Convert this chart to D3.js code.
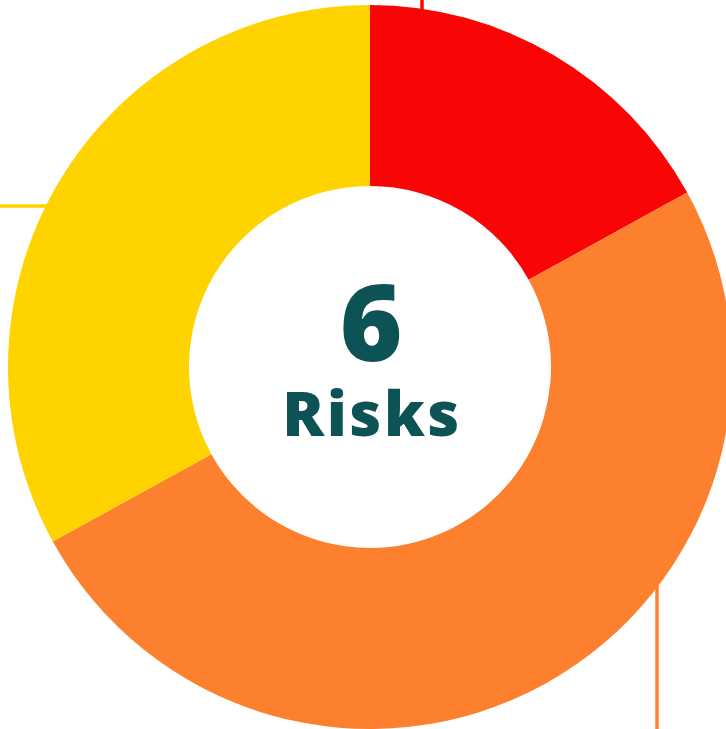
<!DOCTYPE html>
<html>
<head>
<meta charset="utf-8">
<script src="https://cdn.jsdelivr.net/npm/d3@7"></script>
<style>
  html, body { margin: 0; padding: 0; background: #fff; overflow: hidden; }
  svg { display: block; }
</style>
</head>
<body>
<svg id="chart" width="726" height="729"></svg>
<script>
const categories = ["High", "Medium", "Low"];
const values = [17, 50, 33];          // percent of risks per level
const counts = [1, 3, 2];
const colors = ["#F90505", "#FD802E", "#FFD300"];
const totalLabel = "Risks";

const svg = d3.select("#chart");
const cx = 370, cy = 367, outerR = 362, innerR = 181;

const g = svg.append("g").attr("transform", `translate(${cx},${cy})`);

const pie = d3.pie().sort(null).value(d => d.value);
const arcs = pie(categories.map((c, i) => ({ cat: c, value: values[i], color: colors[i] })));
const arc = d3.arc().innerRadius(innerR).outerRadius(outerR);

// leader lines (drawn beneath the slices, extending toward off-canvas labels)
const leaders = [
  { i: 0, pts: [[422 - cx, 0 - cy - 10], [422 - cx, 30 - cy]] },
  { i: 2, pts: [[0 - cx - 10, 206 - cy], [70 - cx, 206 - cy]] },
  { i: 1, pts: [[657 - cx, 560 - cy], [657 - cx, 740 - cy]] }
];
g.selectAll("path.leader").data(leaders).join("path")
  .attr("class", "leader")
  .attr("d", d => d3.line()(d.pts))
  .attr("fill", "none")
  .attr("stroke", d => colors[d.i])
  .attr("stroke-width", 3.5);

g.selectAll("path.slice").data(arcs).join("path")
  .attr("class", "slice")
  .attr("d", arc)
  .attr("fill", d => d.data.color);

const total = d3.sum(counts);
g.append("text")
  .attr("x", 1).attr("y", -6)
  .attr("text-anchor", "middle")
  .attr("font-family", "'Open Sans', sans-serif")
  .attr("font-weight", 800)
  .attr("font-size", 107)
  .attr("fill", "#0D5356")
  .text(total);
g.append("text")
  .attr("x", 2).attr("y", 69)
  .attr("text-anchor", "middle")
  .attr("font-family", "'Open Sans', sans-serif")
  .attr("font-weight", 800)
  .attr("font-size", 62)
  .attr("letter-spacing", 2.5)
  .attr("fill", "#0D5356")
  .text(totalLabel);
</script>
</body>
</html>
